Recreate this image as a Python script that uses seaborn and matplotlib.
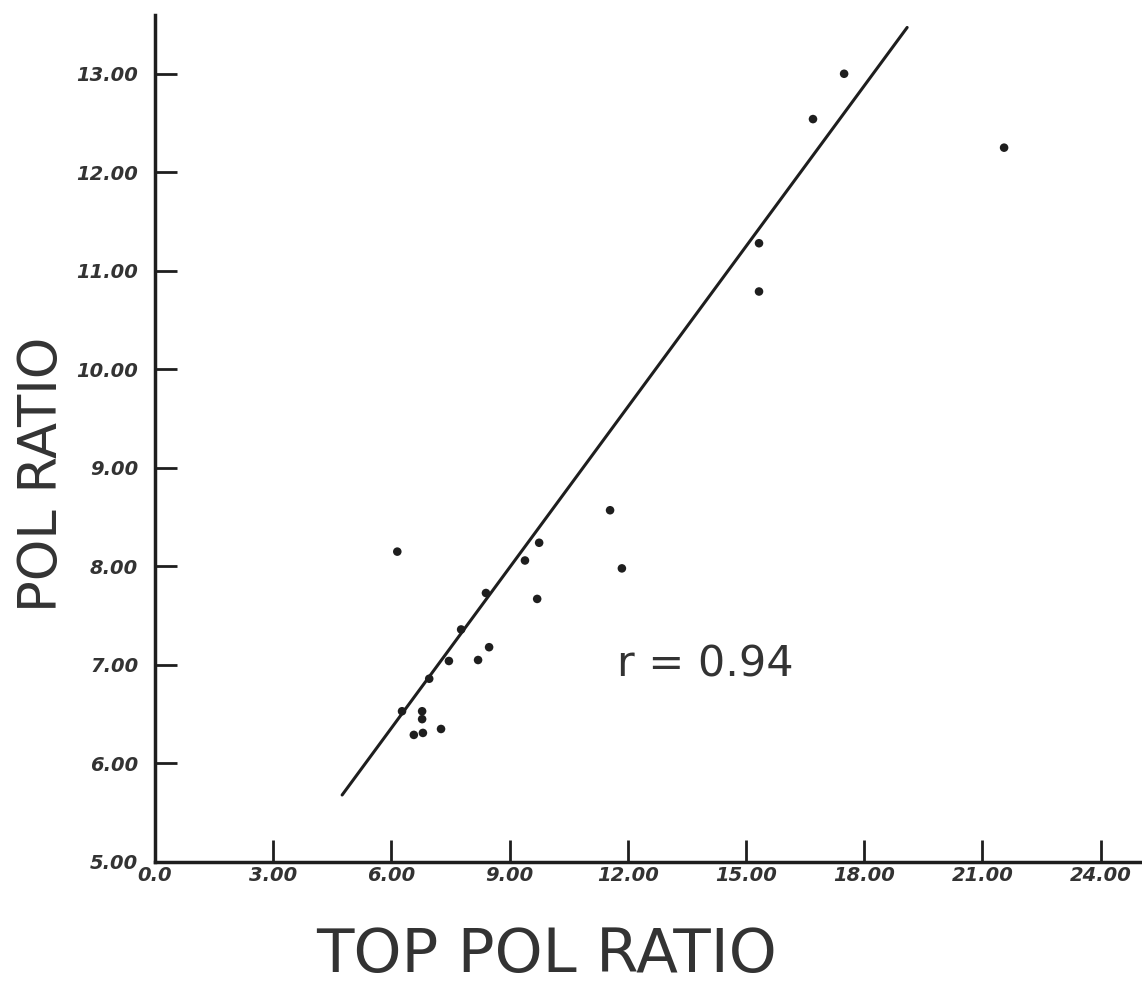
import numpy as np
import pandas as pd
import seaborn as sns
import matplotlib.pyplot as plt

# ------------------------------------------------------------------
# Data (TOP POL RATIO vs POL RATIO)
# ------------------------------------------------------------------
top_pol_ratio = [6.15, 9.75, 9.39, 9.70, 11.85, 11.55, 8.40, 7.77, 8.48, 8.20,
                 7.46, 6.96, 6.27, 6.78, 6.78, 6.57, 6.80, 7.26,
                 17.49, 16.70, 21.55, 15.33, 15.33]
pol_ratio = [8.15, 8.24, 8.06, 7.67, 7.98, 8.57, 7.73, 7.36, 7.18, 7.05,
             7.04, 6.86, 6.53, 6.53, 6.45, 6.29, 6.31, 6.35,
             13.00, 12.54, 12.25, 11.28, 10.79]

# fitted line end points
fit_x = [4.75, 19.09]
fit_y = [5.68, 13.47]

x_ticks = [0, 3, 6, 9, 12, 15, 18, 21, 24]
x_tick_labels = ["0.0", "3.00", "6.00", "9.00", "12.00", "15.00", "18.00", "21.00", "24.00"]
y_ticks = [5, 6, 7, 8, 9, 10, 11, 12, 13]
y_tick_labels = ["5.00", "6.00", "7.00", "8.00", "9.00", "10.00", "11.00", "12.00", "13.00"]

r_text = "r = 0.94"

df_pts = pd.DataFrame({"top": top_pol_ratio, "pol": pol_ratio})
df_fit = pd.DataFrame({"x": fit_x, "y": fit_y})

# ------------------------------------------------------------------
# Plot
# ------------------------------------------------------------------
sns.set_style("white")
plt.rcParams['font.family'] = ['DejaVu Sans']

fig = plt.figure(figsize=(11.42, 9.83), dpi=100)
ax = fig.add_axes([0.1357, 0.1231, 0.8643, 0.862])

ink = "#1e1e1e"
sns.lineplot(data=df_fit, x="x", y="y", ax=ax, color=ink, linewidth=2.2)
sns.scatterplot(data=df_pts, x="top", y="pol", ax=ax, color=ink, s=38,
                edgecolor="none", zorder=3)

ax.set_xlim(0, 25.05)
ax.set_ylim(5, 13.6)

ax.set_xticks(x_ticks)
ax.set_xticklabels(x_tick_labels, fontsize=14, fontstyle="italic", fontweight="bold", color="#333333")
ax.set_yticks(y_ticks)
ax.set_yticklabels(y_tick_labels, fontsize=14, fontstyle="italic", fontweight="bold", color="#333333")
ax.tick_params(axis="both", which="major", bottom=True, left=True,
               direction="in", length=16, width=2, color=ink)
ax.tick_params(axis="x", pad=3)
ax.tick_params(axis="y", pad=12)

sns.despine(ax=ax)
for side in ["left", "bottom"]:
    ax.spines[side].set_linewidth(2.5)
    ax.spines[side].set_color(ink)

ax.set_xlabel("TOP POL RATIO", fontsize=44, color="#333333")
ax.xaxis.set_label_coords(0.397, -0.075)
ax.set_ylabel("POL RATIO", fontsize=38, color="#333333")
ax.yaxis.set_label_coords(-0.088, 0.457)

ax.text(13.96, 7.0, r_text, fontsize=31, color="#333333", ha="center", va="center")

plt.savefig("out.png", dpi=100)
plt.close()
